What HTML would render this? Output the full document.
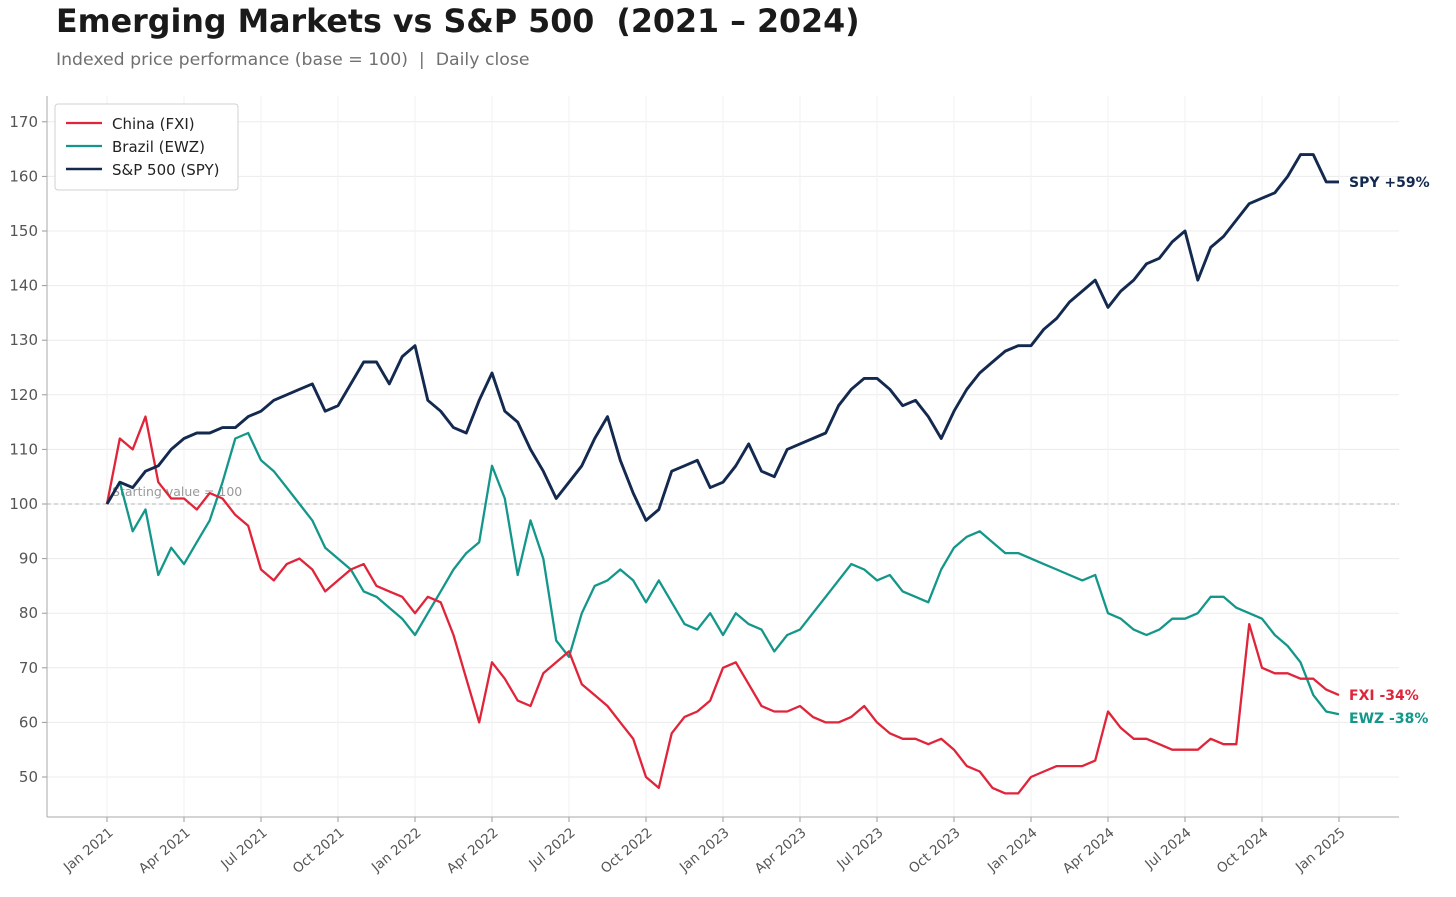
<!DOCTYPE html>
<html><head><meta charset="utf-8"><style>
body{margin:0;background:#fff;font-family:"DejaVu Sans","Liberation Sans",sans-serif;}
svg{display:block}
text{white-space:pre}
</style></head><body>
<svg id="chart" width="1456" height="897" xmlns="http://www.w3.org/2000/svg">
<text x="56" y="32" font-size="31.7" font-weight="bold" fill="#1a1a1a" xml:space="preserve">Emerging Markets vs S&amp;P 500  (2021 – 2024)</text>
<text x="56" y="65" font-size="17.3" fill="#707070" xml:space="preserve">Indexed price performance (base = 100)  |  Daily close</text>
<g id="grid"></g>
<g id="axes"></g>
<g id="series"></g>
<g id="legend">
<rect x="55" y="104" width="183" height="86" rx="3" fill="#fff" stroke="#d0d0d0"/>
<line x1="66" y1="123" x2="102" y2="123" stroke="#e0243a" stroke-width="2.2"/>
<text x="112" y="129" font-size="15" fill="#222">China (FXI)</text>
<line x1="66" y1="146" x2="102" y2="146" stroke="#14978a" stroke-width="2.2"/>
<text x="112" y="152" font-size="15" fill="#222">Brazil (EWZ)</text>
<line x1="66" y1="169" x2="102" y2="169" stroke="#13294f" stroke-width="2.6"/>
<text x="112" y="175" font-size="15" fill="#222">S&amp;P 500 (SPY)</text>
</g>
</svg>
<script>
// half-monthly index values, Jan 2021 .. Jan 2025 (97 points)
const spyValues=[100,104,103,106,107,110,112,113,113,114,114,116,117,119,120,121,122,117,118,122,126,126,122,127,
129,119,117,114,113,119,124,117,115,110,106,101,104,107,112,116,108,102,97,99,106,107,108,103,
104,107,111,106,105,110,111,112,113,118,121,123,123,121,118,119,116,112,117,121,124,126,128,129,
129,132,134,137,139,141,136,139,141,144,145,148,150,141,147,149,152,155,156,157,160,164,164,159,159];
const fxiValues=[100,112,110,116,104,101,101,99,102,101,98,96,88,86,89,90,88,84,86,88,89,85,84,83,
80,83,82,76,68,60,71,68,64,63,69,71,73,67,65,63,60,57,50,48,58,61,62,64,
70,71,67,63,62,62,63,61,60,60,61,63,60,58,57,57,56,57,55,52,51,48,47,47,
50,51,52,52,52,53,62,59,57,57,56,55,55,55,57,56,56,78,70,69,69,68,68,66,65];
const ewzValues=[100,104,95,99,87,92,89,93,97,104,112,113,108,106,103,100,97,92,90,88,84,83,81,79,
76,80,84,88,91,93,107,101,87,97,90,75,72,80,85,86,88,86,82,86,82,78,77,80,
76,80,78,77,73,76,77,80,83,86,89,88,86,87,84,83,82,88,92,94,95,93,91,91,
90,89,88,87,86,87,80,79,77,76,77,79,79,80,83,83,81,80,79,76,74,71,65,62,61.5];
const yTicks=[50,60,70,80,90,100,110,120,130,140,150,160,170];
const xTickLabels=["Jan 2021","Apr 2021","Jul 2021","Oct 2021","Jan 2022","Apr 2022","Jul 2022","Oct 2022","Jan 2023","Apr 2023","Jul 2023","Oct 2023","Jan 2024","Apr 2024","Jul 2024","Oct 2024","Jan 2025"];
const endLabels=["SPY +59%","FXI -34%","EWZ -38%"];

const NS="http://www.w3.org/2000/svg";
const L=47,R=1399,T=96,B=817;
function xScale(months){return 107+months*(1232/48);}
function yScale(v){return 504-(v-100)*5.46;}
function mk(tag,attrs,parent){const e=document.createElementNS(NS,tag);for(const k in attrs)e.setAttribute(k,attrs[k]);parent.appendChild(e);return e;}
const grid=document.getElementById('grid'),axes=document.getElementById('axes'),series=document.getElementById('series');

yTicks.forEach(v=>{
  const y=yScale(v);
  const g=mk('line',{x1:L,x2:R,y1:y,y2:y,stroke:'#ececec','stroke-width':1},grid);
  
  
  mk('line',{x1:L-5,x2:L,y1:y,y2:y,stroke:'#999'},axes);
  const t=mk('text',{x:L-9,y:y+5,'text-anchor':'end','font-size':15,fill:'#555'},axes);
  t.textContent=v;
  
  
});
xTickLabels.forEach((lab,i)=>{
  const x=xScale(i*3);
  const g=mk('line',{x1:x,x2:x,y1:T,y2:B,stroke:'#f2f2f2','stroke-width':1},grid);
  
  
  mk('line',{x1:x,x2:x,y1:B,y2:B+5,stroke:'#999'},axes);
  const t=mk('text',{x:x+7,y:B+17,'text-anchor':'end','font-size':13.5,fill:'#555',transform:`rotate(-40 ${x+7} ${B+17})`},axes);
  t.textContent=lab;
  
  
});
const ax1=mk('line',{x1:L,x2:L,y1:T,y2:B,stroke:'#aaa'},axes);


const ax2=mk('line',{x1:L,x2:R,y1:B,y2:B,stroke:'#aaa'},axes);


const base=mk('line',{x1:L,x2:R,y1:yScale(100),y2:yScale(100),stroke:'#b5b5b5','stroke-dasharray':'4,3'},grid);


const ann=mk('text',{x:112,y:yScale(100)-8,'font-size':12.5,fill:'#999'},grid);
ann.textContent='Starting value = 100';



function draw(vals,color,w,name){
  const d=vals.map((v,i)=>(i?'L':'M')+xScale(i/2).toFixed(1)+' '+yScale(v).toFixed(1)).join(' ');
  const p=mk('path',{d:d,fill:'none',stroke:color,'stroke-width':w,'stroke-linejoin':'round'},series);
  
  
}
draw(ewzValues,'#14978a',2.3,'line-ewz');
draw(fxiValues,'#e0243a',2.3,'line-fxi');
draw(spyValues,'#13294f',2.9,'line-spy');

const endX=xScale(48)+10;
[[spyValues,'#13294f',0],[fxiValues,'#e0243a',1],[ewzValues,'#14978a',2]].forEach(([vals,c,i])=>{
  let y=yScale(vals[vals.length-1])+5;
  if(i===2) y=Math.max(y,yScale(fxiValues[fxiValues.length-1])+5+23);
  const t=mk('text',{x:endX,y:y,'font-size':14,'font-weight':'bold',fill:c},series);
  t.textContent=endLabels[i];
  
  
});
</script>
</body></html>
